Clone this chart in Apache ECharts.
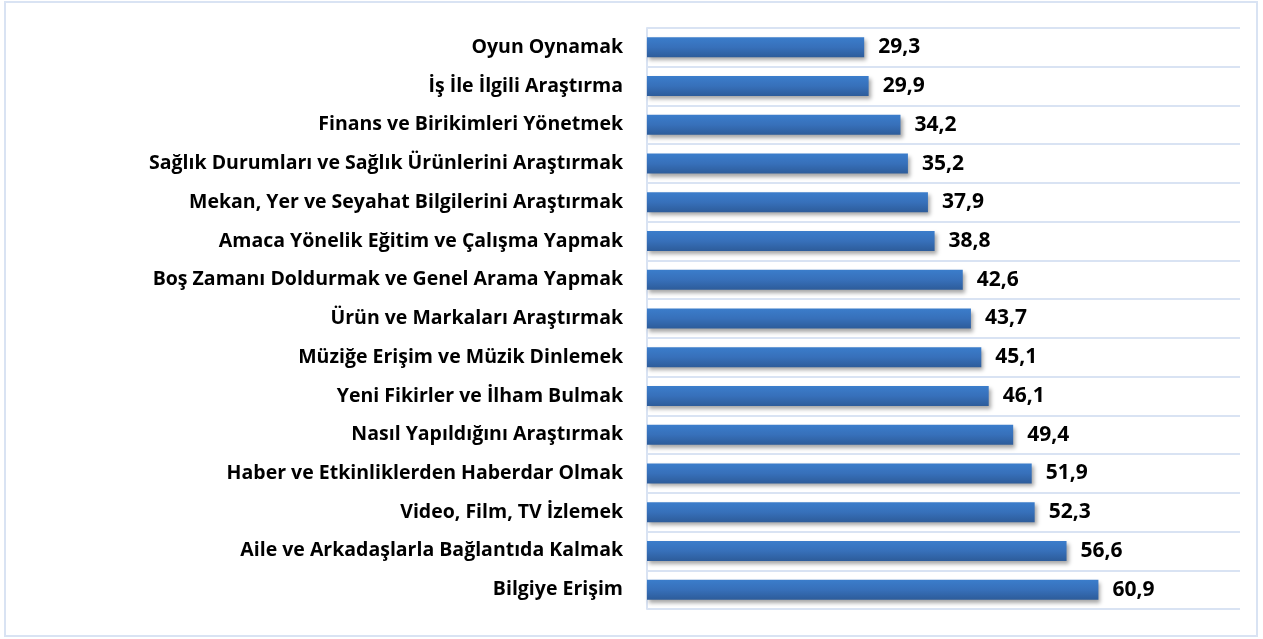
<!DOCTYPE html>
<html>
<head>
<meta charset="utf-8">
<script src="https://cdn.jsdelivr.net/npm/echarts@6/dist/echarts.min.js"></script>
<style>
    html, body { margin: 0; padding: 0; background: #fff; }
    #grafico { width: 1263px; height: 639px; }
</style>
</head>
<body>
<div id="grafico"></div>
<script>
// categories top to bottom
const categories = [
    "Oyun Oynamak",
    "İş İle İlgili Araştırma",
    "Finans ve Birikimleri Yönetmek",
    "Sağlık Durumları ve Sağlık Ürünlerini Araştırmak",
    "Mekan, Yer ve Seyahat Bilgilerini Araştırmak",
    "Amaca Yönelik Eğitim ve Çalışma Yapmak",
    "Boş Zamanı Doldurmak ve Genel Arama Yapmak",
    "Ürün ve Markaları Araştırmak",
    "Müziğe Erişim ve Müzik Dinlemek",
    "Yeni Fikirler ve İlham Bulmak",
    "Nasıl Yapıldığını Araştırmak",
    "Haber ve Etkinliklerden Haberdar Olmak",
    "Video, Film, TV İzlemek",
    "Aile ve Arkadaşlarla Bağlantıda Kalmak",
    "Bilgiye Erişim",
]
const values = [29.3, 29.9, 34.2, 35.2, 37.9, 38.8, 42.6, 43.7, 45.1, 46.1, 49.4, 51.9, 52.3, 56.6, 60.9]

const gridColor = "#d9e3f3"

var myChart = echarts.init(document.getElementById("grafico"))

var option = {
    backgroundColor: "#ffffff",
    animation: false,
    graphic: [
        {
            type: "rect",
            shape: { x: 5, y: 2, width: 1252, height: 634 },
            style: { fill: "none", stroke: gridColor, lineWidth: 2 },
        },
    ],
    grid: {
        left: 647,
        right: 23,
        top: 28,
        bottom: 30,
        containLabel: false,
    },
    xAxis: {
        type: "value",
        min: 0,
        max: 80,
        show: false,
    },
    yAxis: {
        type: "category",
        data: categories,
        inverse: true,
        axisLine: {
            show: true,
            lineStyle: { color: gridColor, width: 2 },
        },
        axisTick: { show: false },
        splitLine: {
            show: true,
            lineStyle: { color: gridColor, width: 2 },
        },
        axisLabel: {
            color: "#000",
            fontFamily: "Open Sans",
            fontWeight: "bold",
            fontSize: 19.5,
            margin: 24,
        },
    },
    series: [
        {
            type: "bar",
            data: values,
            barWidth: 20,
            itemStyle: {
                color: {
                    type: "linear",
                    x: 0, y: 0, x2: 0, y2: 1,
                    colorStops: [
                        { offset: 0, color: "#3b7dcb" },
                        { offset: 0.5, color: "#3770ba" },
                        { offset: 1, color: "#2d5c9a" },
                    ],
                },
                shadowColor: "rgba(0, 0, 0, 0.35)",
                shadowBlur: 4,
                shadowOffsetX: 2,
                shadowOffsetY: 3,
            },
            label: {
                show: true,
                position: "right",
                distance: 14,
                color: "#000",
                fontFamily: "Open Sans",
                fontWeight: "bold",
                fontSize: 21,
                formatter: p => p.value.toFixed(1).replace(".", ","),
            },
        },
    ],
}

myChart.setOption(option, true)
</script>
</body>
</html>
